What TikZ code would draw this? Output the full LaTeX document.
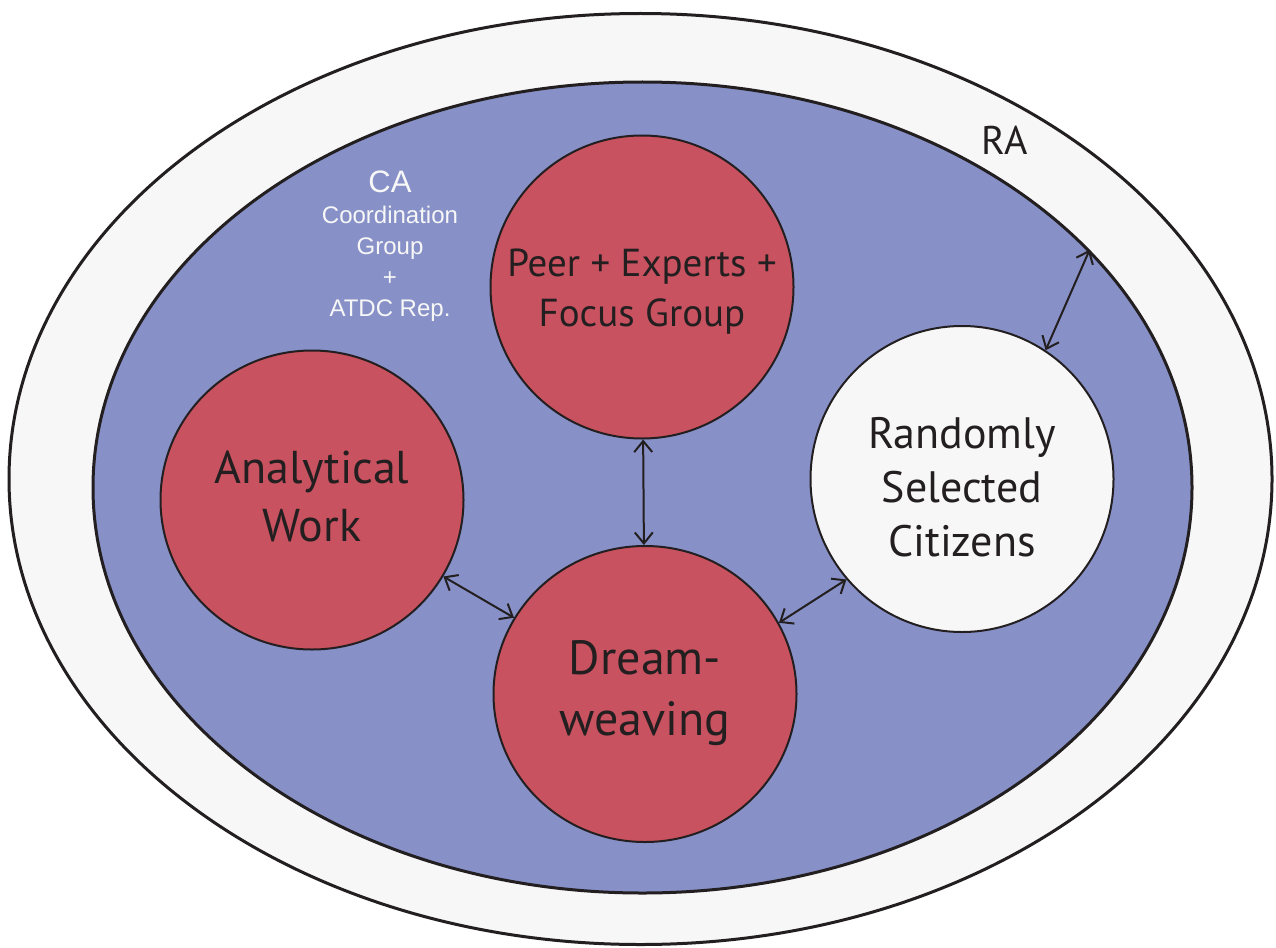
\documentclass[tikz,border=0pt]{standalone}
\usepackage{fontspec}
\setmainfont{PT Sans}
\newfontfamily\arialf{Liberation Sans}
\usetikzlibrary{shapes.geometric,arrows.meta}
\definecolor{bluefill}{RGB}{135,145,200}
\definecolor{redfill}{RGB}{200,82,95}
\definecolor{offwhite}{RGB}{247,247,247}
\definecolor{ink}{RGB}{35,31,32}
\tikzset{
  bubble/.style={ellipse,draw=ink,line width=2pt,inner sep=0pt,minimum width=303pt,minimum height=303pt},
  redbubble/.style={bubble,fill=redfill},
  bubbletext/.style={align=center,text=ink,inner sep=0pt},
  barb/.tip={Straight Barb[length=11pt,width=18pt,line width=2pt]},
  link/.style={draw=ink,line width=2pt,barb-barb},
}
\begin{document}
\begin{tikzpicture}[x=1pt,y=-1pt]
\useasboundingbox (0,0) rectangle (1276,947);
\fill[white] (0,0) rectangle (1276,947);
\node[ellipse,draw=ink,line width=3pt,fill=offwhite,minimum width=1263pt,minimum height=931pt,inner sep=0pt] (ra) at (640.5,479) {};
\node[ellipse,draw=ink,line width=3pt,fill=bluefill,minimum width=1099pt,minimum height=811pt,inner sep=0pt] (ca) at (642.5,487.5) {};
\node[text=ink,font=\fontsize{40}{44}\selectfont] (ralabel) at (1005,140) {RA};
\node[text=offwhite,align=center,font=\arialf\fontsize{24}{31}\selectfont] (calabel) at (390,246) {{\fontsize{31}{31}\selectfont CA}\\Coordination\\Group\\+\\ATDC Rep.};
\node[redbubble] (peer) at (642,287) {};
\node[redbubble,minimum height=299pt] (anal) at (312,500) {};
\node[redbubble,minimum height=296pt] (dream) at (645,694) {};
\node[bubble,fill=offwhite,minimum height=306pt] (rand) at (962,479) {};
\node[bubbletext,font=\fontsize{39}{50}\selectfont] (peertext) at (642,292) {Peer + Experts +\\Focus Group};
\node[bubbletext,font=\fontsize{46}{58}\selectfont] (analtext) at (312,496) {Analytical\\Work};
\node[bubbletext,font=\fontsize{48}{61}\selectfont] (dreamtext) at (645,693) {Dream-\\weaving};
\node[bubbletext,font=\fontsize{44}{54}\selectfont] (randtext) at (962,487) {Randomly\\Selected\\Citizens};
\draw[link] (peer) -- (dream);
\draw[link] (anal) -- (dream);
\draw[link] (dream.28) -- (rand.221);
\draw[link] (rand.57) -- (ca.28.3);
\end{tikzpicture}
\end{document}
